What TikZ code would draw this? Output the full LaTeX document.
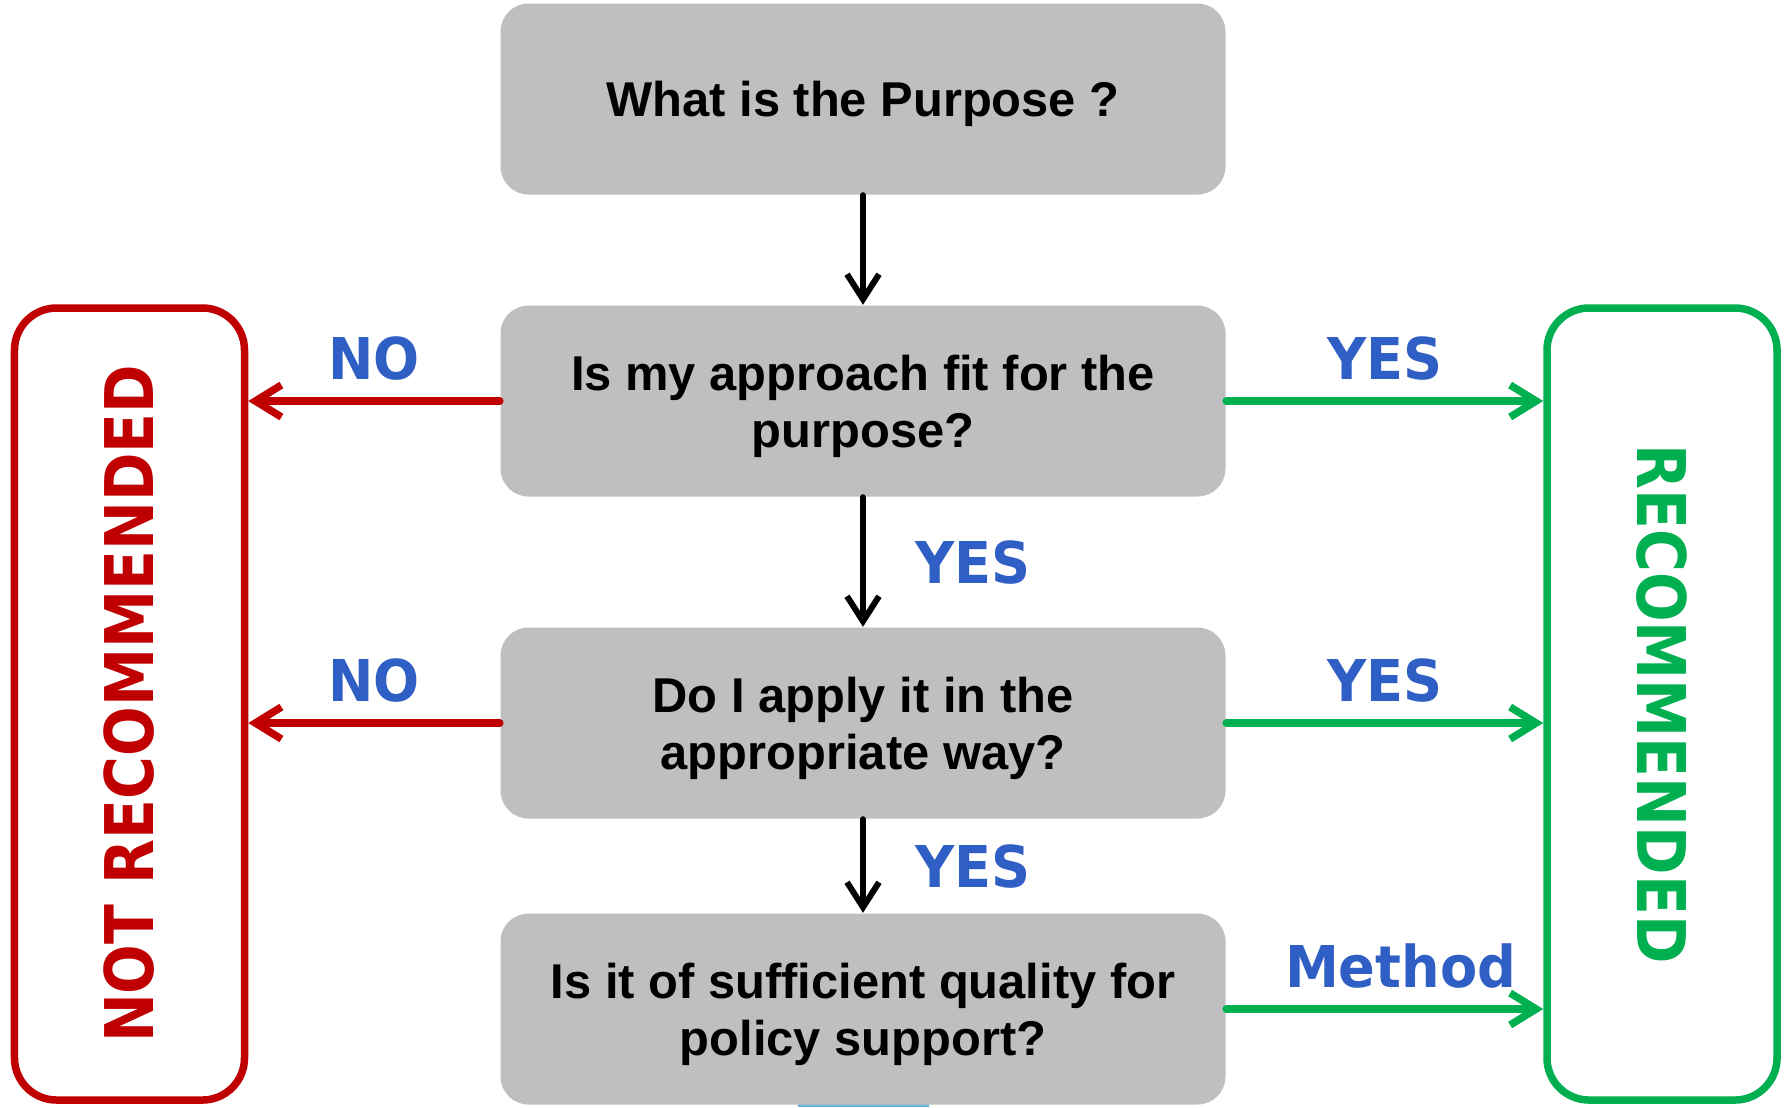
\documentclass[tikz,border=0pt]{standalone}
\usepackage{fontspec}
\setmainfont{Liberation Sans}
\newfontfamily\tagfont[FakeStretch=0.94]{DejaVu Sans}
\newfontfamily\sidefont[FakeStretch=0.87]{DejaVu Sans}
\usetikzlibrary{positioning,arrows.meta}

\definecolor{boxgray}{RGB}{191,191,191}
\definecolor{nored}{RGB}{192,0,0}
\definecolor{yesgreen}{RGB}{0,176,80}
\definecolor{tagblue}{RGB}{47,94,196}
\definecolor{stubblue}{RGB}{110,180,222}

\tikzset{
  question/.style={fill=boxgray, rounded corners=0.28cm, minimum width=7.25cm,
    minimum height=1.91cm, align=center, text depth=0pt,
    font=\fontsize{13.9}{16.2}\selectfont\bfseries},
  verdict/.style={draw=#1, line width=0.075cm, rounded corners=0.42cm,
    minimum width=2.3cm, minimum height=7.92cm},
  verdicttext/.style={text=#1, inner sep=0pt,
    font=\sidefont\fontsize{19.1}{22}\selectfont\bfseries},
  tag/.style={text=tagblue, inner sep=0pt,
    font=\tagfont\fontsize{16.4}{18}\selectfont\bfseries},
  flow/.style={-{Straight Barb[length=0.25cm,width=0.32cm]}, line width=0.06cm,
    line cap=round},
  nogo/.style={-{Straight Barb[length=0.26cm,width=0.32cm]}, line width=0.075cm,
    line cap=round, draw=nored},
  go/.style={-{Straight Barb[length=0.26cm,width=0.32cm]}, line width=0.075cm,
    line cap=round, draw=yesgreen}
}

\begin{document}
\begin{tikzpicture}[node distance=3cm,on grid]
  \useasboundingbox (0,0) rectangle (17.87,-11.07);

  % the question column
  \fill[stubblue] (7.98,-11.02) rectangle (9.29,-11.07);
  \node[question] (purpose) at (8.63,-0.99) {What is the Purpose ?};
  \node[question, below=3.02cm of purpose] (fit) {Is my approach fit for the\\purpose?};
  \node[question, below=3.22cm of fit] (apply) {Do I apply it in the\\appropriate way?};
  \node[question, below=2.86cm of apply] (quality) {Is it of sufficient quality for\\policy support?};

  % verdicts on both sides
  \node[verdict=nored] (notrec) at (1.295,-7.04) {};
  \node[verdicttext=nored, rotate=90] at (notrec) {NOT RECOMMENDED};
  \node[verdict=yesgreen] (rec) at (16.62,-7.04) {};
  \node[verdicttext=yesgreen, rotate=-90] at (rec) {RECOMMENDED};

  \draw[flow] (purpose) -- (fit);
  \draw[flow] (fit) -- (apply) node[tag, midway, right=0.49cm, anchor=west] {YES};
  \draw[flow] (apply) -- (quality) node[tag, midway, right=0.49cm, anchor=west] {YES};

  \draw[nogo] (fit.west) -- (fit.west -| notrec.east) node[tag, midway, above=0.17cm] {NO};
  \draw[nogo] (apply.west) -- (apply.west -| notrec.east) node[tag, midway, above=0.17cm] {NO};
  \draw[go] (fit.east) -- (fit.east -| rec.west) node[tag, midway, above=0.17cm] {YES};
  \draw[go] (apply.east) -- (apply.east -| rec.west) node[tag, midway, above=0.17cm] {YES};
  \draw[go] (quality.east) -- (quality.east -| rec.west) node[tag, pos=0.55, above=0.17cm] {Method};
\end{tikzpicture}
\end{document}
